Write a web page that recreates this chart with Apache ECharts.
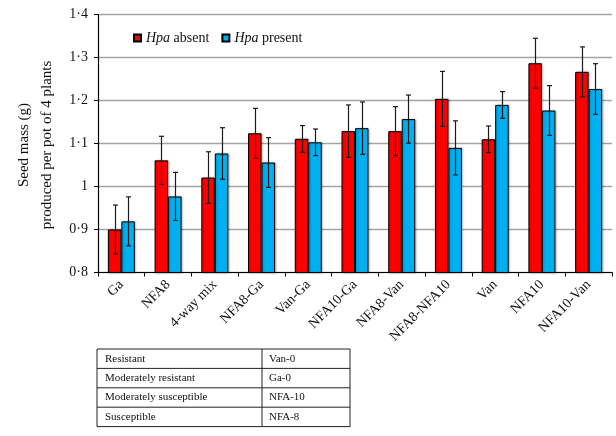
<!DOCTYPE html>
<html>
<head>
<meta charset="utf-8">
<script src="https://cdn.jsdelivr.net/npm/echarts@6/dist/echarts.min.js"></script>
<style>
  html, body { margin: 0; padding: 0; background: #fff; }
  #chart { width: 616px; height: 436px; }
</style>
</head>
<body>
<div id="chart"></div>
<script>
// Seed mass per pot, with and without Hpa, by Arabidopsis accession mix
var categories = ['Ga', 'NFA8', '4-way mix', 'NFA8-Ga', 'Van-Ga', 'NFA10-Ga', 'NFA8-Van', 'NFA8-NFA10', 'Van', 'NFA10', 'NFA10-Van'];
var hpaAbsent = [0.900, 1.061, 1.021, 1.124, 1.111, 1.129, 1.129, 1.204, 1.110, 1.287, 1.267];
var hpaPresent = [0.919, 0.977, 1.077, 1.056, 1.103, 1.136, 1.157, 1.090, 1.190, 1.177, 1.227];
var hpaAbsentErr = [0.057, 0.056, 0.060, 0.058, 0.031, 0.061, 0.057, 0.064, 0.031, 0.058, 0.058];
var hpaPresentErr = [0.057, 0.056, 0.060, 0.058, 0.031, 0.061, 0.056, 0.063, 0.031, 0.058, 0.059];
var yTicks = { min: 0.8, max: 1.4, step: 0.1 };
var tableRows = [
  ['Resistant', 'Van-0'],
  ['Moderately resistant', 'Ga-0'],
  ['Moderately susceptible', 'NFA-10'],
  ['Susceptible', 'NFA-8']
];

var SERIF = '"Liberation Serif", "DejaVu Serif", serif';
var BAR_W = 13.5;

var chart = echarts.init(document.getElementById('chart'), null, { renderer: 'canvas' });

function errorBars(values, errs, offset) {
  return {
    type: 'custom',
    z: 5,
    silent: true,
    data: values.map(function (v, i) { return [i, v, errs[i]]; }),
    encode: { x: 0, y: 1 },
    renderItem: function (params, api) {
      var i = api.value(0), v = api.value(1), e = api.value(2);
      var top = api.coord([i, v + e]);
      var bot = api.coord([i, v - e]);
      var x = Math.round(top[0] + offset) + 0.5;
      var cap = 2.5;
      var style = { stroke: '#1a1a1a', lineWidth: 1.2 };
      return {
        type: 'group',
        children: [
          { type: 'line', shape: { x1: x, y1: top[1], x2: x, y2: bot[1] }, style: style },
          { type: 'line', shape: { x1: x - cap, y1: top[1], x2: x + cap, y2: top[1] }, style: style },
          { type: 'line', shape: { x1: x - cap, y1: bot[1], x2: x + cap, y2: bot[1] }, style: style }
        ]
      };
    }
  };
}

// Reference table of accession resistance drawn under the chart
var tableGraphics = [];
(function () {
  var left = 97, right = 350, mid = 262, top = 349, rowH = 19.4;
  var n = tableRows.length;
  var bottom = top + rowH * n;
  var lineStyle = { stroke: '#222', lineWidth: 1 };
  tableGraphics.push({ type: 'rect', shape: { x: left, y: top, width: right - left, height: bottom - top },
    style: { fill: 'none', stroke: '#222', lineWidth: 1 } });
  tableGraphics.push({ type: 'line', shape: { x1: mid, y1: top, x2: mid, y2: bottom }, style: lineStyle });
  for (var r = 1; r < n; r++) {
    tableGraphics.push({ type: 'line', shape: { x1: left, y1: top + rowH * r, x2: right, y2: top + rowH * r }, style: lineStyle });
  }
  tableRows.forEach(function (row, r) {
    var cy = top + rowH * r + rowH / 2;
    tableGraphics.push({ type: 'text', x: left + 8, y: cy,
      style: { text: row[0], fill: '#111', font: '11px ' + SERIF, textVerticalAlign: 'middle' } });
    tableGraphics.push({ type: 'text', x: mid + 7, y: cy,
      style: { text: row[1], fill: '#111', font: '11px ' + SERIF, textVerticalAlign: 'middle' } });
  });
})();

var option = {
  animation: false,
  backgroundColor: '#fff',
  textStyle: { fontFamily: SERIF, color: '#111' },
  grid: { left: 98, right: 4, top: 14.7, bottom: 163.5, containLabel: false },
  legend: {
    left: 128, top: 26,
    itemWidth: 7, itemHeight: 7, itemGap: 12,
    icon: 'rect',
    data: ['absent', 'present'],
    formatter: function (name) { return '{i|Hpa} ' + name; },
    textStyle: {
      fontFamily: SERIF, fontSize: 14, color: '#111',
      rich: { i: { fontFamily: SERIF, fontSize: 14, fontStyle: 'italic', color: '#111' } }
    }
  },
  xAxis: {
    type: 'category',
    data: categories,
    boundaryGap: true,
    axisLine: { lineStyle: { color: '#000', width: 1.2 } },
    axisTick: { show: true, length: 4, lineStyle: { color: '#000' } },
    axisLabel: { rotate: 45, fontFamily: SERIF, fontSize: 14, color: '#111', margin: 10, interval: 0 }
  },
  yAxis: {
    type: 'value',
    min: yTicks.min, max: yTicks.max, interval: yTicks.step,
    axisLine: { show: true, lineStyle: { color: '#000', width: 1.2 } },
    axisTick: { show: true, length: 4, lineStyle: { color: '#000' } },
    axisLabel: {
      fontFamily: SERIF, fontSize: 14, color: '#111', margin: 10,
      formatter: function (v) { return String(Math.round(v * 10) / 10).replace('.', '\u00b7'); }
    },
    splitLine: { lineStyle: { color: '#a4a4a4', width: 1.3 } }
  },
  graphic: [
    {
      type: 'text', x: 36, y: 145, rotation: Math.PI / 2,
      style: {
        text: 'Seed mass (g)\nproduced per pot of 4 plants',
        font: '15px ' + SERIF, fill: '#111',
        textAlign: 'center', textVerticalAlign: 'middle', lineHeight: 23
      }
    }
  ].concat(tableGraphics),
  series: [
    {
      name: 'absent', type: 'bar', data: hpaAbsent, barWidth: BAR_W, barGap: '0%',
      itemStyle: { color: '#ff0000', borderColor: '#000', borderWidth: 1,
        shadowColor: 'rgba(0,0,0,0.25)', shadowBlur: 2, shadowOffsetX: 1, shadowOffsetY: 0 }
    },
    {
      name: 'present', type: 'bar', data: hpaPresent, barWidth: BAR_W, barGap: '0%',
      itemStyle: { color: '#00b0f0', borderColor: '#000', borderWidth: 1,
        shadowColor: 'rgba(0,0,0,0.25)', shadowBlur: 2, shadowOffsetX: 1, shadowOffsetY: 0 }
    },
    errorBars(hpaAbsent, hpaAbsentErr, -BAR_W / 2),
    errorBars(hpaPresent, hpaPresentErr, BAR_W / 2)
  ]
};

chart.setOption(option);
</script>
</body>
</html>
